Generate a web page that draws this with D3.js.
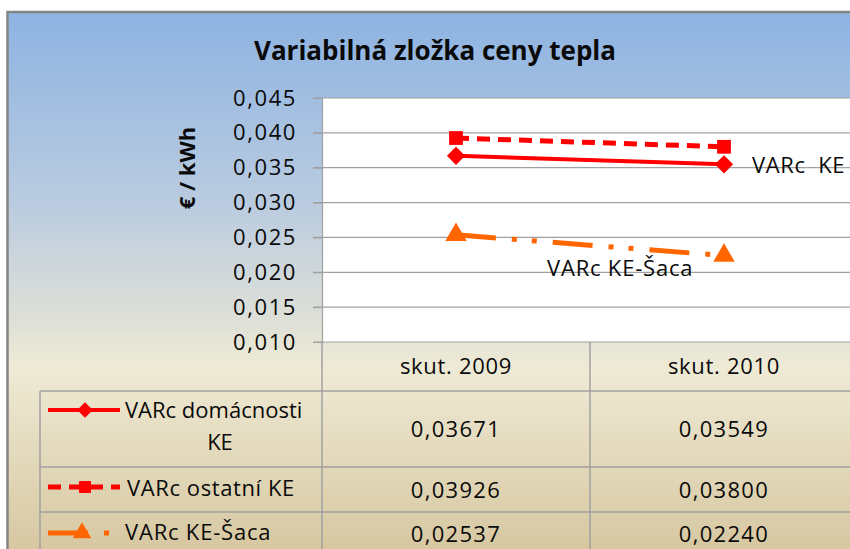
<!DOCTYPE html>
<html><head><meta charset="utf-8">
<script src="https://cdn.jsdelivr.net/npm/d3@7"></script>
<style>
html,body{margin:0;padding:0;background:#fff;overflow:hidden}
text{font-family:"Open Sans",sans-serif}
</style></head>
<body><svg id="c" width="850" height="549"></svg>
<script>
const title = "Variabilná zložka ceny tepla";
const yTitle = "€ / kWh";
const categories = ["skut. 2009", "skut. 2010"];
const seriesNames = ["VARc domácnosti KE", "VARc ostatní KE", "VARc KE-Šaca"];
const domacnosti = [0.03671, 0.03549];
const ostatni = [0.03926, 0.03800];
const saca = [0.02537, 0.02240];
const valueLabels = [["0,03671","0,03549"],["0,03926","0,03800"],["0,02537","0,02240"]];
const yTicks = [0.010, 0.015, 0.020, 0.025, 0.030, 0.035, 0.040, 0.045];
const annotations = ["VARc  KE", "VARc KE-Šaca"];

const FS = 22;
const svg = d3.select("#c");
const defs = svg.append("defs");
const g = defs.append("linearGradient").attr("id","bg").attr("x1",0).attr("y1",0).attr("x2",0).attr("y2",1);
[[0,"#8db3e2"],[0.35,"#b9cbe0"],[0.6,"#e3e3d6"],[0.66,"#efead5"],[1,"#d6c7a0"]]
  .forEach(([o,c])=>g.append("stop").attr("offset",o).attr("stop-color",c));

// chart frame
svg.append("rect").attr("x",7.5).attr("y",12).attr("width",900).attr("height",540)
  .attr("fill","url(#bg)").attr("stroke","#858585").attr("stroke-width",2.5);

const L=322, R=858, T=98, B=342;
const x = d3.scaleBand().domain(categories).range([L,R]);
const y = d3.scaleLinear().domain([0.010,0.045]).range([B,T]);

svg.append("rect").attr("x",L).attr("y",T).attr("width",R-L).attr("height",B-T).attr("fill","#fff");

// gridlines
svg.append("g").selectAll("line").data(yTicks).join("line")
  .attr("x1",L-9).attr("x2",R).attr("y1",d=>y(d)).attr("y2",d=>y(d))
  .attr("stroke","#a0a0a0").attr("stroke-width",1.2);

// y axis
const fmt = d=>d3.format(".3f")(d).replace(".",",");
const yAxis = svg.append("g").attr("transform",`translate(${L},0)`)
  .call(d3.axisLeft(y).tickValues(yTicks).tickFormat(fmt).tickSize(9).tickPadding(16));
yAxis.select(".domain").attr("stroke","#a0a0a0").attr("stroke-width",1.2);
yAxis.selectAll(".tick line").attr("stroke","#a0a0a0");
yAxis.selectAll("text").attr("font-size",FS).attr("letter-spacing",1.6).attr("fill","#0a0a0a")
  .style("font-family","'Open Sans',sans-serif");

// y title
svg.append("text").attr("transform","translate(195,168) rotate(-90)")
  .attr("text-anchor","middle").attr("font-size",22).attr("font-weight","bold").attr("fill","#0a0a0a").text(yTitle);

// title
svg.append("text").attr("x",435).attr("y",60).attr("text-anchor","middle")
  .attr("font-size",26).attr("font-weight","bold").attr("fill","#0a0a0a").text(title);

// table
const rowLines = [391, 467, 512, 557];
const tg = svg.append("g").attr("stroke","#a0a0a0").attr("stroke-width",1.5);
[L, x(categories[1]), R].forEach(v=>tg.append("line").attr("x1",v).attr("x2",v).attr("y1",B).attr("y2",600));
tg.append("line").attr("x1",40).attr("x2",40).attr("y1",rowLines[0]).attr("y2",600);
rowLines.forEach(v=>tg.append("line").attr("x1",40).attr("x2",R).attr("y1",v).attr("y2",v));

categories.forEach(c=>svg.append("text").attr("x",x(c)+x.bandwidth()/2).attr("y",374)
  .attr("text-anchor","middle").attr("font-size",FS).attr("letter-spacing",0.7).attr("fill","#0a0a0a").text(c));

const valBase = [437, 498, 542];
valueLabels.forEach((row,i)=>row.forEach((v,j)=>svg.append("text")
  .attr("x",x(categories[j])+x.bandwidth()/2).attr("y",valBase[i]).attr("text-anchor","middle")
  .attr("font-size",FS).attr("letter-spacing",1.3).attr("fill","#0a0a0a").text(v)));

// series styles
const series = [
  {vals:domacnosti, color:"#ff0000", dash:null, w:4, shape:d3.symbolSquare, rot:45, size:165},
  {vals:ostatni, color:"#ff0000", dash:"13,8", w:5, shape:d3.symbolSquare, rot:0, size:190},
  {vals:saca, color:"#ff6600", dash:"40,16,5,15,5,16", w:5, shape:d3.symbolTriangle, rot:0, size:200}
];
const cx = c=>x(c)+x.bandwidth()/2;
const line = d3.line().x((d,i)=>cx(categories[i])).y(d=>y(d));
series.forEach(s=>{
  svg.append("path").attr("d",line(s.vals)).attr("fill","none").attr("stroke",s.color)
    .attr("stroke-width",s.w).attr("stroke-dasharray",s.dash);
  svg.selectAll(null).data(s.vals).join("path")
    .attr("transform",(d,i)=>`translate(${cx(categories[i])},${y(d)}) rotate(${s.rot})`)
    .attr("d",d3.symbol().type(s.shape).size(s.size)).attr("fill",s.color);
});

// legend keys in table
const keyY = [410, 487, 533];
series.forEach((s,i)=>{
  svg.append("line").attr("x1",48).attr("x2",120).attr("y1",keyY[i]).attr("y2",keyY[i])
    .attr("stroke",s.color).attr("stroke-width",s.w).attr("stroke-dasharray",s.dash);
  svg.append("path").attr("transform",`translate(${i==2?82:85},${keyY[i]}) rotate(${s.rot})`)
    .attr("d",d3.symbol().type(s.shape).size(s.size*0.75)).attr("fill",s.color);
});
const lt = svg.append("g").attr("font-size",FS).attr("fill","#0a0a0a");
lt.append("text").attr("x",125).attr("y",418).attr("letter-spacing",0).text("VARc domácnosti");
lt.append("text").attr("x",220).attr("y",450).attr("text-anchor","middle").text("KE");
lt.append("text").attr("x",127).attr("y",496).attr("letter-spacing",0.6).text("VARc ostatní KE");
lt.append("text").attr("x",125).attr("y",540).attr("letter-spacing",0.8).text("VARc KE-Šaca");

// annotations on plot
svg.append("text").attr("x",752).attr("y",173).attr("font-size",FS).attr("letter-spacing",0.6).attr("fill","#0a0a0a")
  .attr("xml:space","preserve").style("white-space","pre").text(annotations[0]);
svg.append("text").attr("x",547).attr("y",276).attr("font-size",FS).attr("letter-spacing",0.8).attr("fill","#0a0a0a").text(annotations[1]);
</script></body></html>
